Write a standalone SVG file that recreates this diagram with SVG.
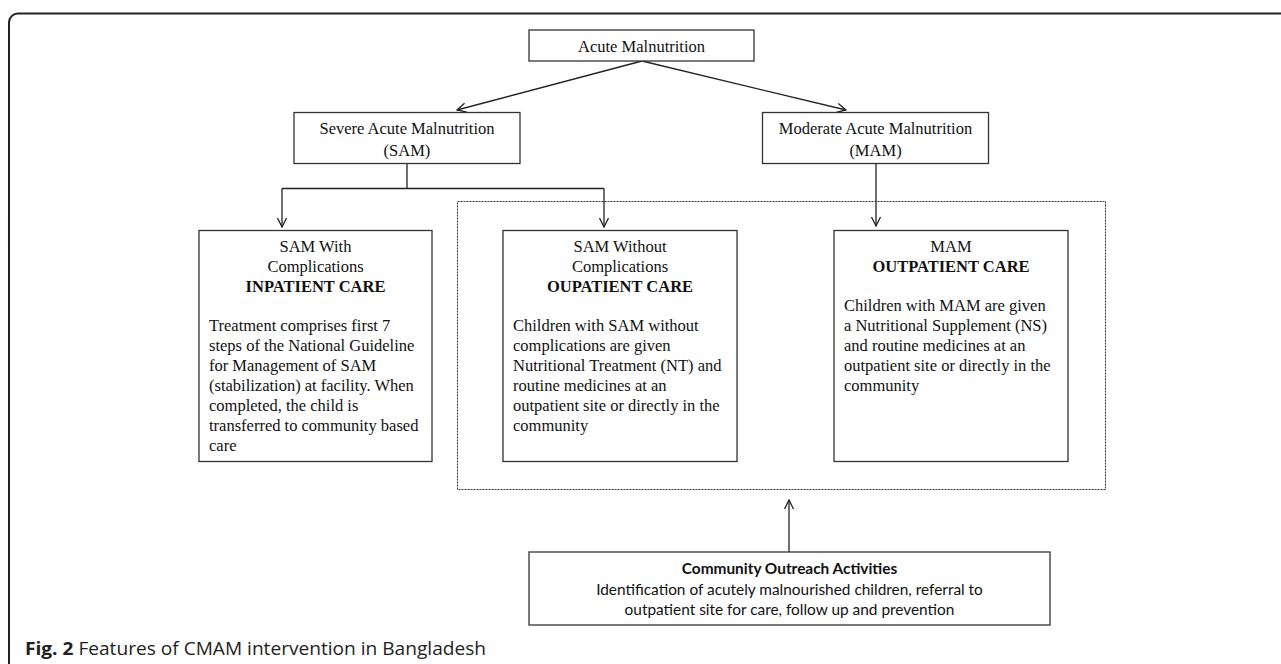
<svg xmlns="http://www.w3.org/2000/svg" width="1281" height="664" viewBox="0 0 1281 664">
<defs>
<style>
.box{fill:#fff;stroke:#333;stroke-width:1.3}
.dash{fill:none;stroke:#333;stroke-width:1;stroke-dasharray:2,1}
.frame{fill:none;stroke:#222;stroke-width:2}
.ln{fill:none;stroke:#222;stroke-width:1.3}
.ser{font-family:"Liberation Serif","Times New Roman",serif;font-size:16.5px;fill:#111}
.c{text-anchor:middle}
.b{font-weight:bold}
.sans{font-family:Lato,"Open Sans","Liberation Sans",sans-serif;font-size:15.4px;fill:#111}
.cap{font-family:"Open Sans","Noto Sans","Liberation Sans",sans-serif;font-size:18.5px;fill:#222}
</style>
<marker id="arr" viewBox="-11 -6 12 12" refX="0" refY="0" markerWidth="12" markerHeight="12" markerUnits="userSpaceOnUse" orient="auto">
<path d="M-9,-4.5 L0,0 L-9,4.5" fill="none" stroke="#222" stroke-width="1.3"/>
</marker>
</defs>
<rect width="1281" height="664" fill="#fff"/>
<rect class="frame" x="9" y="13.5" width="1300" height="700" rx="9" ry="9"/>

<g id="connectors">
<line class="ln" x1="642" y1="61" x2="457" y2="110" marker-end="url(#arr)"/>
<line class="ln" x1="642" y1="61" x2="846" y2="110" marker-end="url(#arr)"/>
<polyline class="ln" points="407,163.5 407,188.5"/>
<polyline class="ln" points="282,188.5 604,188.5"/>
<line class="ln" x1="282" y1="188.5" x2="282" y2="227" marker-end="url(#arr)"/>
<line class="ln" x1="604" y1="188.5" x2="604" y2="227" marker-end="url(#arr)"/>
<line class="ln" x1="876" y1="163.5" x2="876" y2="226" marker-end="url(#arr)"/>
<line class="ln" x1="789" y1="552" x2="789" y2="500" marker-end="url(#arr)"/>
</g>

<g id="outpatient-group">
<rect class="dash" x="457.5" y="201.5" width="648" height="288"/>
</g>

<g id="acute">
<rect class="box" x="529" y="30" width="225" height="31"/>
<text class="ser c" x="641.5" y="51.5">Acute Malnutrition</text>
</g>

<g id="sam">
<rect class="box" x="294" y="112.5" width="226" height="51"/>
<text class="ser c" x="407" y="134">Severe Acute Malnutrition</text>
<text class="ser c" x="407" y="156">(SAM)</text>
</g>

<g id="mam">
<rect class="box" x="762.5" y="112.5" width="226" height="51"/>
<text class="ser c" x="875.5" y="134">Moderate Acute Malnutrition</text>
<text class="ser c" x="875.5" y="156">(MAM)</text>
</g>

<g id="sam-with">
<rect class="box" x="199" y="230.5" width="233" height="231"/>
<text class="ser c" x="315.5" y="252">SAM With</text>
<text class="ser c" x="315.5" y="272">Complications</text>
<text class="ser c b" x="315.5" y="292">INPATIENT CARE</text>
<text class="ser" x="209" y="331">Treatment comprises first 7</text>
<text class="ser" x="209" y="351">steps of the National Guideline</text>
<text class="ser" x="209" y="371">for Management of SAM</text>
<text class="ser" x="209" y="391">(stabilization) at facility. When</text>
<text class="ser" x="209" y="411">completed, the child is</text>
<text class="ser" x="209" y="431">transferred to community based</text>
<text class="ser" x="209" y="451">care</text>
</g>

<g id="sam-without">
<rect class="box" x="503" y="230.5" width="234" height="231"/>
<text class="ser c" x="620" y="252">SAM Without</text>
<text class="ser c" x="620" y="272">Complications</text>
<text class="ser c b" x="620" y="292">OUPATIENT CARE</text>
<text class="ser" x="513" y="331">Children with SAM without</text>
<text class="ser" x="513" y="351">complications are given</text>
<text class="ser" x="513" y="371">Nutritional Treatment (NT) and</text>
<text class="ser" x="513" y="391">routine medicines at an</text>
<text class="ser" x="513" y="411">outpatient site or directly in the</text>
<text class="ser" x="513" y="431">community</text>
</g>

<g id="mam-outpatient">
<rect class="box" x="834" y="230.5" width="234" height="231"/>
<text class="ser c" x="951" y="252">MAM</text>
<text class="ser c b" x="951" y="272">OUTPATIENT CARE</text>
<text class="ser" x="844" y="311">Children with MAM are given</text>
<text class="ser" x="844" y="331">a Nutritional Supplement (NS)</text>
<text class="ser" x="844" y="351">and routine medicines at an</text>
<text class="ser" x="844" y="371">outpatient site or directly in the</text>
<text class="ser" x="844" y="391">community</text>
</g>

<g id="community">
<rect class="box" x="529" y="552" width="521" height="73"/>
<text class="sans c b" x="789.5" y="574">Community Outreach Activities</text>
<text class="sans c" x="789.5" y="595">Identification of acutely malnourished children, referral to</text>
<text class="sans c" x="789.5" y="614.5">outpatient site for care, follow up and prevention</text>
</g>

<g id="caption">
<text class="cap" x="25" y="655" textLength="461" lengthAdjust="spacingAndGlyphs"><tspan font-weight="bold">Fig. 2</tspan> Features of CMAM intervention in Bangladesh</text>
</g>
</svg>
